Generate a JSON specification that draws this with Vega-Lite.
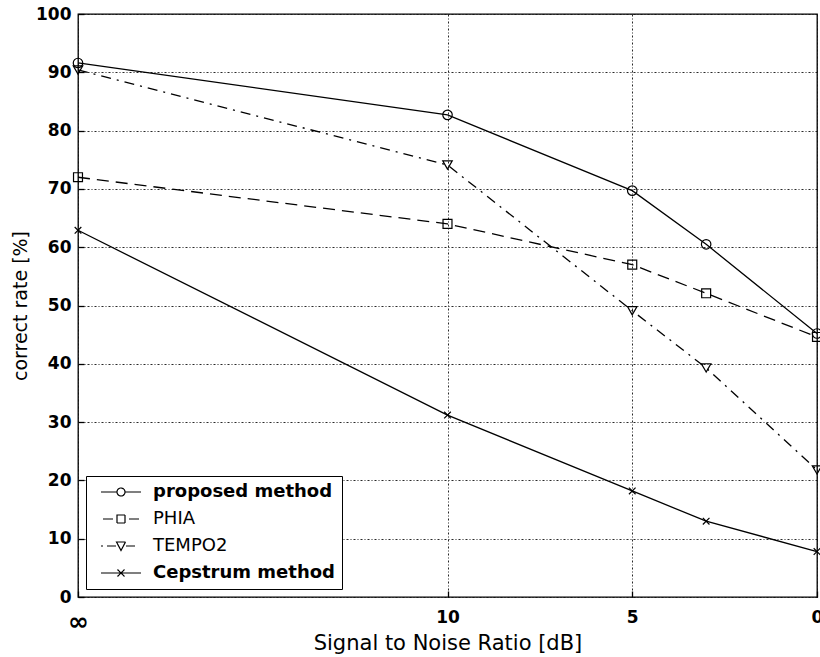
{
  "$schema": "https://vega.github.io/schema/vega-lite/v6.json",
  "width": 739,
  "height": 583,
  "autosize": {"type": "none"},
  "padding": {"left": 78, "top": 14, "right": 3, "bottom": 60},
  "background": "white",
  "data": {
    "values": [
      {"snr": 20, "method": "proposed method", "rate": 91.6},
      {"snr": 10, "method": "proposed method", "rate": 82.7},
      {"snr": 5, "method": "proposed method", "rate": 69.7},
      {"snr": 3, "method": "proposed method", "rate": 60.5},
      {"snr": 0, "method": "proposed method", "rate": 45.2},
      {"snr": 20, "method": "PHIA", "rate": 72.0},
      {"snr": 10, "method": "PHIA", "rate": 64.0},
      {"snr": 5, "method": "PHIA", "rate": 57.0},
      {"snr": 3, "method": "PHIA", "rate": 52.1},
      {"snr": 0, "method": "PHIA", "rate": 44.6},
      {"snr": 20, "method": "TEMPO2", "rate": 90.4},
      {"snr": 10, "method": "TEMPO2", "rate": 74.1},
      {"snr": 5, "method": "TEMPO2", "rate": 49.1},
      {"snr": 3, "method": "TEMPO2", "rate": 39.3},
      {"snr": 0, "method": "TEMPO2", "rate": 21.8},
      {"snr": 20, "method": "Cepstrum method", "rate": 62.9},
      {"snr": 10, "method": "Cepstrum method", "rate": 31.2},
      {"snr": 5, "method": "Cepstrum method", "rate": 18.2},
      {"snr": 3, "method": "Cepstrum method", "rate": 13.0},
      {"snr": 0, "method": "Cepstrum method", "rate": 7.8}
    ]
  },
  "encoding": {
    "x": {
      "field": "snr",
      "type": "quantitative",
      "scale": {"domain": [0, 20], "reverse": true, "nice": false, "zero": false},
      "axis": {
        "title": "Signal to Noise Ratio [dB]",
        "values": [20, 10, 5, 0],
        "labelExpr": "datum.value == 20 ? '∞' : datum.label",
        "labelFontSize": {"condition": {"test": "datum.value == 20", "value": 25}, "value": 17},
        "labelPadding": 18,
        "titlePadding": -2,
        "titleFontSize": 21,
        "labelFlush": false
      }
    },
    "y": {
      "field": "rate",
      "type": "quantitative",
      "scale": {"domain": [0, 100], "nice": false},
      "axis": {
        "title": "correct rate [%]",
        "values": [0, 10, 20, 30, 40, 50, 60, 70, 80, 90, 100],
        "labelPadding": 13,
        "titlePadding": 5,
        "titleFontSize": 19
      }
    },
    "color": {
      "field": "method",
      "type": "nominal",
      "scale": {
        "domain": ["proposed method", "PHIA", "TEMPO2", "Cepstrum method"],
        "range": ["black", "black", "black", "black"]
      },
      "legend": {
        "title": null,
        "orient": "bottom-left",
        "offset": 8,
        "padding": 7,
        "rowPadding": 9,
        "strokeColor": "black",
        "fillColor": "white",
        "symbolSize": 100,
        "symbolStrokeWidth": 1.2,
        "symbolStrokeColor": "black",
        "symbolFillColor": "transparent",
        "symbolOpacity": 1,
        "symbolDash": [1, 0],
        "symbolType": {"expr": "datum.value == 'proposed method' ? 'M-0.2,0H3M4.6,0H7.8M4.6,0A0.8,0.8 0 1,1 3,0A0.8,0.8 0 1,1 4.6,0' : datum.value == 'PHIA' ? 'M0.2,0H2.2M5.4,0H7.4M3,-0.8H4.6V0.8H3Z' : datum.value == 'TEMPO2' ? 'M-0.2,0H0.2M1,0H2.8M4.8,0H6.6M2.9,-0.8H4.7L3.8,0.9Z' : 'M-0.2,0H7.8M3.1,-0.7L4.5,0.7M3.1,0.7L4.5,-0.7'"},
        "labelOffset": 42,
        "labelFontSize": 18,
        "labelLimit": 400,
        "labelFontWeight": {"expr": "datum.value == 'PHIA' || datum.value == 'TEMPO2' ? 'normal' : 'bold'"},
        "labelColor": "black"
      }
    }
  },
  "layer": [
    {
      "transform": [{"filter": "datum.method == 'proposed method'"}],
      "mark": {"type": "line", "strokeWidth": 1.3}
    },
    {
      "transform": [{"filter": "datum.method == 'Cepstrum method'"}],
      "mark": {"type": "line", "strokeWidth": 1.3}
    },
    {
      "transform": [{"filter": "datum.method == 'PHIA'"}],
      "mark": {"type": "line", "strokeWidth": 1.3, "strokeDash": [12, 7]}
    },
    {
      "transform": [{"filter": "datum.method == 'TEMPO2'"}],
      "mark": {"type": "line", "strokeWidth": 1.3, "strokeDash": [10, 6, 2, 6]}
    },
    {
      "transform": [{"filter": "datum.method == 'proposed method'"}],
      "mark": {"type": "point", "shape": "circle", "filled": false, "strokeWidth": 1.2, "size": 90, "opacity": 1}
    },
    {
      "transform": [{"filter": "datum.method == 'PHIA'"}],
      "mark": {"type": "point", "shape": "square", "filled": false, "strokeWidth": 1.2, "size": 80, "opacity": 1}
    },
    {
      "transform": [{"filter": "datum.method == 'TEMPO2'"}],
      "mark": {"type": "point", "shape": "triangle-down", "filled": false, "strokeWidth": 1.2, "size": 90, "opacity": 1}
    },
    {
      "transform": [{"filter": "datum.method == 'Cepstrum method'"}],
      "mark": {"type": "point", "shape": "M-0.7,-0.7L0.7,0.7M-0.7,0.7L0.7,-0.7", "filled": false, "strokeWidth": 1.2, "size": 90, "opacity": 1}
    }
  ],
  "config": {
    "font": "DejaVu Sans",
    "view": {"stroke": "black", "strokeWidth": 1.3},
    "axis": {
      "domain": false,
      "ticks": true,
      "tickSize": -6,
      "tickColor": "black",
      "tickWidth": 1.3,
      "grid": true,
      "gridColor": "#111111",
      "gridDash": [2, 2, 1, 2],
      "gridWidth": 1,
      "gridOpacity": 0.9,
      "labelFont": "DejaVu Sans",
      "labelFontSize": 17,
      "labelFontWeight": "bold",
      "labelColor": "black",
      "titleFont": "DejaVu Sans",
      "titleFontWeight": "normal",
      "titleColor": "black"
    },
    "legend": {"labelFont": "DejaVu Sans"}
  }
}
